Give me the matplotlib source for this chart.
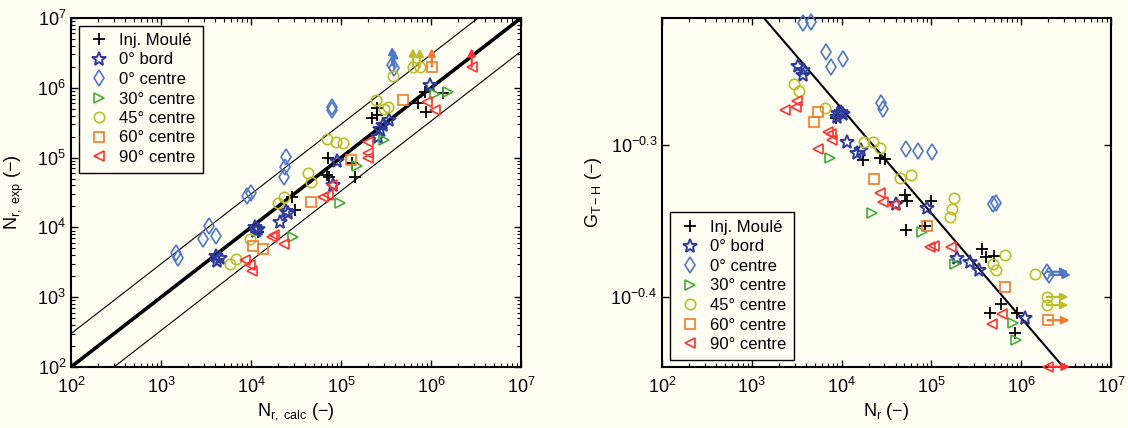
import numpy as np
import matplotlib
matplotlib.use('Agg')
import matplotlib.pyplot as plt
from matplotlib.ticker import FixedLocator, FixedFormatter, NullLocator

plt.rcParams['font.family'] = ['Liberation Sans', 'DejaVu Sans']
plt.rcParams['mathtext.fontset'] = 'custom'
plt.rcParams['mathtext.rm'] = 'Liberation Sans'
plt.rcParams['mathtext.it'] = 'Liberation Sans:italic'
plt.rcParams['mathtext.bf'] = 'Liberation Sans:bold'

# ---------------- data : left panel (N_r,calc , N_r,exp) ----------------
labels = ['Inj. Moulé', '0° bord', '0° centre', '30° centre', '45° centre', '60° centre', '90° centre']

L_inj_x = [1.2e4, 2.88e4, 3.08e4, 7.23e4, 7.0e4, 7.4e4, 1.32e5, 1.43e5, 2.19e5, 2.53e5, 2.53e5, 7.23e5, 8.79e5, 8.58e5, 1.37e6]
L_inj_y = [8.5e3, 2.75e4, 1.77e4, 9.8e4, 5.6e4, 5.2e4, 8.5e4, 5.3e4, 3.66e5, 4.08e5, 5.08e5, 6.0e5, 4.55e5, 8.8e5, 8.5e5]

L_bord_x = [4.1e3, 4.5e3, 4.2e3, 1.1e4, 1.2e4, 1.15e4, 2.1e4, 2.6e4, 2.45e4, 9.0e4, 8.1e4, 2.7e5, 2.9e5, 3.4e5, 2.6e5, 9.8e5]
L_bord_y = [3.9e3, 3.6e3, 3.3e3, 1.0e4, 9.5e3, 9.0e3, 1.2e4, 1.6e4, 1.7e4, 9.0e4, 4.1e4, 2.6e5, 2.9e5, 3.5e5, 2.0e5, 1.1e6]

L_c0_x = [1.45e3, 1.55e3, 3.4e3, 2.9e3, 4.05e3, 9.0e3, 1.0e4, 2.45e4, 2.4e4, 2.35e4, 7.9e4, 8.0e4, 3.7e5, 3.9e5]
L_c0_y = [4.3e3, 3.7e3, 1.05e4, 6.8e3, 7.6e3, 2.8e4, 3.1e4, 1.03e5, 7.4e4, 5.3e4, 5.3e5, 4.8e5, 2.1e6, 1.9e6]
L_c0_up = [0, 0, 0, 0, 0, 0, 0, 0, 0, 0, 0, 0, 1, 1]

L_c30_x = [2.95e4, 9.8e4, 1.49e5, 3.0e5, 1.11e6, 1.56e6]
L_c30_y = [7.4e3, 2.2e4, 7.6e4, 1.8e5, 8.1e5, 8.8e5]

L_c45_x = [5.8e3, 6.8e3, 9.7e3, 2.3e4, 2.0e4, 4.3e4, 4.7e4, 7.0e4, 8.9e4, 1.04e5, 2.45e5, 3.0e5, 3.35e5, 3.75e5, 6.3e5, 7.5e5]
L_c45_y = [3.0e3, 3.5e3, 6.8e3, 2.75e4, 2.25e4, 6.0e4, 4.4e4, 1.82e5, 1.69e5, 1.64e5, 6.7e5, 4.9e5, 5.35e5, 1.48e6, 2.0e6, 1.97e6]
L_c45_up = [0, 0, 0, 0, 0, 0, 0, 0, 0, 0, 0, 0, 0, 0, 1, 1]

L_c60_x = [1.06e4, 1.37e4, 4.6e4, 1.29e5, 4.9e5, 1.02e6]
L_c60_y = [5.4e3, 4.85e3, 2.33e4, 9.2e4, 6.7e5, 2.0e6]
L_c60_up = [0, 0, 0, 0, 0, 1]

L_c90_x = [8.6e3, 9.7e3, 1.02e4, 1.7e4, 1.8e4, 2.33e4, 6.3e4, 7.2e4, 7.9e4, 2.0e5, 2.0e5, 2.0e5, 9.0e5, 1.11e6, 2.83e6]
L_c90_y = [3.4e3, 2.9e3, 2.4e3, 7.4e3, 7.9e3, 5.8e3, 2.75e4, 2.9e4, 4.0e4, 1.69e5, 1.15e5, 9.8e4, 6.3e5, 4.8e5, 2.0e6]
L_c90_up = [0] * 14 + [1]

# ---------------- data : right panel (N_r , G_T-H) ----------------
R_inj_x = [8.7e3, 1.75e4, 2.68e4, 3.04e4, 5.08e4, 5.39e4, 9.8e4, 5.2e4, 8.5e4, 3.63e5, 4.05e5, 5.0e5, 5.9e5, 4.5e5, 9.0e5, 8.5e5]
R_inj_y = [0.522, 0.490, 0.4915, 0.4906, 0.4645, 0.4606, 0.4606, 0.4406, 0.4432, 0.4278, 0.423, 0.4234, 0.3936, 0.3887, 0.3887, 0.377]

R_bord_x = [3.3e3, 3.74e3, 3.74e3, 9.2e3, 9.8e3, 8.8e3, 1.04e4, 1.14e4, 1.47e4, 1.63e4, 4.04e4, 8.9e4, 1.91e5, 2.69e5, 3.39e5, 1.1e6]
R_bord_y = [0.565, 0.5615, 0.557, 0.526, 0.527, 0.523, 0.525, 0.5036, 0.4948, 0.4973, 0.458, 0.4553, 0.422, 0.4198, 0.4146, 0.3853]

R_c0_x = [3.69e3, 4.53e3, 6.7e3, 7.6e3, 1.03e4, 2.72e4, 2.91e4, 5.2e4, 7.15e4, 1.02e5, 4.8e5, 5.3e5, 1.92e6, 2.05e6]
R_c0_y = [0.603, 0.604, 0.577, 0.564, 0.571, 0.534, 0.529, 0.4985, 0.4967, 0.496, 0.4582, 0.4587, 0.4135, 0.4115]
R_c0_right = [0] * 12 + [1, 1]

R_c30_x = [7.4e3, 2.16e4, 7.8e4, 1.83e5, 8.2e5, 8.75e5]
R_c30_y = [0.4915, 0.4519, 0.4394, 0.4183, 0.3827, 0.373]

R_c45_x = [2.95e3, 3.38e3, 6.5e3, 1.78e4, 2.25e4, 2.68e4, 4.47e4, 6.0e4, 1.79e5, 1.68e5, 1.61e5, 6.6e5, 4.9e5, 5.2e5, 1.43e6, 1.92e6, 1.92e6]
R_c45_y = [0.5497, 0.5439, 0.5304, 0.5036, 0.5031, 0.4991, 0.4764, 0.4788, 0.4623, 0.4546, 0.4494, 0.424, 0.4184, 0.4146, 0.412, 0.398, 0.3931]
R_c45_right = [0] * 15 + [1, 1]

R_c60_x = [5.4e3, 4.9e3, 2.3e4, 9.0e4, 6.6e5, 1.97e6]
R_c60_y = [0.5272, 0.5187, 0.476, 0.4432, 0.4038, 0.3842]
R_c60_right = [0, 0, 0, 0, 0, 1]

R_c90_x = [2.34e3, 3.1e3, 3.2e3, 7.1e3, 7.8e3, 7.6e3, 5.5e3, 2.68e4, 2.9e4, 3.8e4, 9.6e4, 1.07e5, 1.64e5, 6.1e5, 4.7e5, 2.0e6]
R_c90_y = [0.5285, 0.5312, 0.5358, 0.5113, 0.5049, 0.5093, 0.4985, 0.4659, 0.4598, 0.4575, 0.4292, 0.43, 0.4295, 0.3878, 0.3819, 0.358]
R_c90_right = [0] * 15 + [1]

# fitted curves
BAND_FACTOR = 3.0
FIT_A = 1.0
FIT_B = -0.069

# ---------------- styles ----------------
BG = '#FEFEF2'
styles = [
    dict(marker='+', color='black', ms=8, mew=1.3),
    dict(marker='*', color='#2E3B9B', ms=10, mew=1.4),
    dict(marker='d', color='#4F77C6', ms=8.5, mew=1.2),
    dict(marker='>', color='#47AA3A', ms=7.5, mew=1.2),
    dict(marker='o', color='#BDBD2C', ms=7.5, mew=1.2),
    dict(marker='s', color='#F27A2E', ms=6.5, mew=1.2),
    dict(marker='<', color='#FF3333', ms=7.5, mew=1.2),
]

fig = plt.figure(figsize=(11.28, 4.28), dpi=100, facecolor=BG)
axL = fig.add_axes([71 / 1128, 1 - 367 / 428, 450 / 1128, 349 / 428], facecolor=BG)
axR = fig.add_axes([662 / 1128, 1 - 367 / 428, 449 / 1128, 349 / 428], facecolor=BG)


def draw(ax, xs, ys, st, label, flags=None, direction='up'):
    h, = ax.plot(xs, ys, linestyle='none', marker=st['marker'], ms=st['ms'],
                 mew=st['mew'], mec=st['color'], mfc='none', label=label,
                 clip_on=False, zorder=3)
    if flags is not None:
        for x, y, f in zip(xs, ys, flags):
            if not f:
                continue
            if direction == 'up':
                tip = (x, y * 1.85)
            else:
                tip = (x * 1.75, y)
            ax.annotate('', xy=tip, xytext=(x, y),
                        arrowprops=dict(arrowstyle='-|>', color=st['color'], lw=1.6,
                                        mutation_scale=11, shrinkA=0, shrinkB=0),
                        annotation_clip=False, zorder=4)
    return h


LEG = dict(fontsize=12, numpoints=1, handlelength=1.5, handletextpad=0.5,
           labelspacing=0.27, borderpad=0.45, borderaxespad=0.45, fancybox=False,
           edgecolor='black', facecolor=BG, framealpha=1)

# ---------------- left panel ----------------
xx = np.array([1e2, 1e7])
axL.plot(xx, xx, color='black', lw=2.6, zorder=2)
axL.plot(xx, xx * BAND_FACTOR, color='black', lw=0.8, zorder=2)
axL.plot(xx, xx / BAND_FACTOR, color='black', lw=0.8, zorder=2)

left_sets = [
    (L_inj_x, L_inj_y, None), (L_bord_x, L_bord_y, None), (L_c0_x, L_c0_y, L_c0_up),
    (L_c30_x, L_c30_y, None), (L_c45_x, L_c45_y, L_c45_up), (L_c60_x, L_c60_y, L_c60_up),
    (L_c90_x, L_c90_y, L_c90_up),
]
handles = []
for (xs, ys, fl), st, lab in zip(left_sets, styles, labels):
    handles.append(draw(axL, xs, ys, st, lab, fl, 'up'))

axL.set_xscale('log')
axL.set_yscale('log')
axL.set_xlim(1e2, 1e7)
axL.set_ylim(1e2, 1e7)
axL.set_xlabel(r'$\mathregular{N_{r,\ calc}}$ (−)', fontsize=13, labelpad=3)
axL.set_ylabel(r'$\mathregular{N_{r,\ exp}}$ (−)', fontsize=13, labelpad=8)
axL.legend(handles=handles, loc='upper left', **LEG).get_frame().set_linewidth(1.0)

# ---------------- right panel ----------------
nn = np.logspace(2, 7, 50)
axR.plot(nn, FIT_A * nn ** FIT_B, color='black', lw=1.5, zorder=2)

right_sets = [
    (R_inj_x, R_inj_y, None), (R_bord_x, R_bord_y, None), (R_c0_x, R_c0_y, R_c0_right),
    (R_c30_x, R_c30_y, None), (R_c45_x, R_c45_y, R_c45_right), (R_c60_x, R_c60_y, R_c60_right),
    (R_c90_x, R_c90_y, R_c90_right),
]
handlesR = []
for (xs, ys, fl), st, lab in zip(right_sets, styles, labels):
    handlesR.append(draw(axR, xs, ys, st, lab, fl, 'right'))

axR.set_xscale('log')
axR.set_yscale('log')
axR.set_xlim(1e2, 1e7)
axR.set_ylim(10 ** -0.4463, 10 ** -0.2163)
axR.yaxis.set_major_locator(FixedLocator([10 ** -0.4, 10 ** -0.3]))
axR.yaxis.set_major_formatter(FixedFormatter([r'$\mathregular{10^{-0.4}}$', r'$\mathregular{10^{-0.3}}$']))
axR.yaxis.set_minor_locator(NullLocator())
axR.set_xlabel(r'$\mathregular{N_r}$ (−)', fontsize=13, labelpad=3)
axR.set_ylabel(r'$\mathregular{G_{T-H}}$ (−)', fontsize=13, labelpad=5)
axR.legend(handles=handlesR, loc='lower left', **LEG).get_frame().set_linewidth(1.0)

for ax in (axL, axR):
    ax.tick_params(which='both', direction='in', top=True, right=True, labelsize=13)
    ax.tick_params(which='major', length=5, width=1)
    ax.tick_params(which='minor', length=3, width=0.8)
    ax.tick_params(axis='x', which='major', pad=7)
    for sp in ax.spines.values():
        sp.set_linewidth(1.5)

fig.savefig('out.png', dpi=100, facecolor=BG)
